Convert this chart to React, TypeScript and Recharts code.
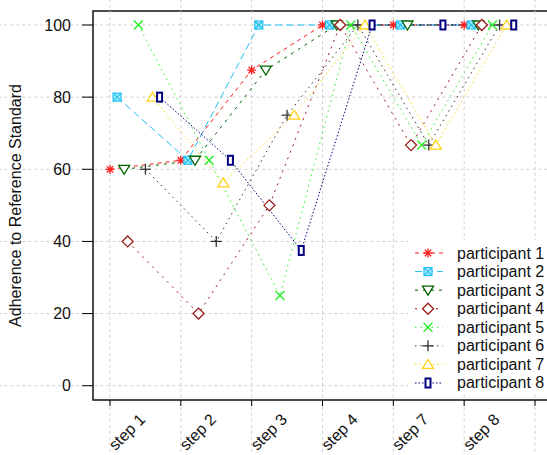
import React from "react";
import { LineChart, Line, XAxis, YAxis, ReferenceLine, ReferenceArea, Legend } from "recharts";

// categories and ticks
const steps = ["step 1", "step 2", "step 3", "step 4", "step 7", "step 8"];
const xTicks = [1, 2, 3, 4, 5, 6, 7];
const yTicks = [0, 20, 40, 60, 80, 100];
const participants = [
  "participant 1",
  "participant 2",
  "participant 3",
  "participant 4",
  "participant 5",
  "participant 6",
  "participant 7",
  "participant 8",
];

// adherence per step, one array per participant
const p1 = [60, 62.5, 87.5, 100, 100, 100];
const p2 = [80, 62.5, 100, 100, 100, 100];
const p3 = [60, 62.5, 87.5, 100, 100, 100];
const p4 = [40, 20, 50, 100, 66.7, 100];
const p5 = [100, 62.5, 25, 100, 66.7, 100];
const p6 = [60, 40, 75, 100, 66.7, 100];
const p7 = [80, 56.25, 75, 100, 66.7, 100];
const p8 = [80, 62.5, 37.5, 100, 100, 100];
const values = [p1, p2, p3, p4, p5, p6, p7, p8];

// horizontal dodge of each participant (in step units)
const dodge = [0, 0.1, 0.2, 0.25, 0.4, 0.5, 0.6, 0.7];

const colors = ["#ff1a1a", "#1ec0f5", "#006400", "#9b1b1b", "#22ee22", "#333333", "#ffd21a", "#000080"];
const dashes = ["4 4", "7 4", "3 5", "2 5", "1.5 4", "1.5 4", "1.5 3", "1.5 2"];
const shapes = ["asterisk", "boxX", "triDown", "diamond", "cross", "plus", "triUp", "rect"];

const FONT = "'Liberation Sans', Arial, Helvetica, sans-serif";
const X_DOMAIN: [number, number] = [0.76, 7.226];
const Y_DOMAIN: [number, number] = [-3.96, 103.88];

const Marker = ({ shape, color, cx, cy }: any) => {
  if (cx == null || cy == null) return null;
  const sw = 1.3;
  switch (shape) {
    case "asterisk": {
      const r = 4.5;
      const d = r * 0.707;
      return (
        <g stroke={color} strokeWidth={sw}>
          <line x1={cx - r} y1={cy} x2={cx + r} y2={cy} />
          <line x1={cx} y1={cy - r} x2={cx} y2={cy + r} />
          <line x1={cx - d} y1={cy - d} x2={cx + d} y2={cy + d} />
          <line x1={cx - d} y1={cy + d} x2={cx + d} y2={cy - d} />
        </g>
      );
    }
    case "boxX": {
      const h = 4;
      return (
        <g stroke={color} strokeWidth={1.2}>
          <rect x={cx - h} y={cy - h} width={2 * h} height={2 * h} fill="#aee8fb" />
          <line x1={cx - h} y1={cy - h} x2={cx + h} y2={cy + h} />
          <line x1={cx - h} y1={cy + h} x2={cx + h} y2={cy - h} />
        </g>
      );
    }
    case "triDown":
      return (
        <polygon
          points={`${cx - 5.5},${cy - 4} ${cx + 5.5},${cy - 4} ${cx},${cy + 5}`}
          fill="#fff"
          stroke={color}
          strokeWidth={sw}
        />
      );
    case "triUp":
      return (
        <polygon
          points={`${cx - 5.5},${cy + 4} ${cx + 5.5},${cy + 4} ${cx},${cy - 5}`}
          fill="#fff"
          stroke={color}
          strokeWidth={sw}
        />
      );
    case "diamond": {
      const r = 5.5;
      return (
        <polygon
          points={`${cx - r},${cy} ${cx},${cy - r} ${cx + r},${cy} ${cx},${cy + r}`}
          fill="#fff"
          stroke={color}
          strokeWidth={sw}
        />
      );
    }
    case "cross": {
      const r = 4.5;
      return (
        <g stroke={color} strokeWidth={sw}>
          <line x1={cx - r} y1={cy - r} x2={cx + r} y2={cy + r} />
          <line x1={cx - r} y1={cy + r} x2={cx + r} y2={cy - r} />
        </g>
      );
    }
    case "plus": {
      const r = 5.5;
      return (
        <g stroke={color} strokeWidth={sw}>
          <line x1={cx - r} y1={cy} x2={cx + r} y2={cy} />
          <line x1={cx} y1={cy - r} x2={cx} y2={cy + r} />
        </g>
      );
    }
    case "rect":
      return <rect x={cx - 2.5} y={cy - 4.5} width={5} height={9} fill="#fff" stroke={color} strokeWidth={2} />;
    default:
      return null;
  }
};

const StepTick = ({ x, y, payload }: any) => {
  const label = steps[payload.value - 1];
  if (!label) return <g />;
  const cx = x + 17;
  const cy = y + 24;
  return (
    <text
      x={cx}
      y={cy}
      transform={`rotate(-45 ${cx} ${cy})`}
      textAnchor="middle"
      dominantBaseline="central"
      fontSize={16}
      fontFamily={FONT}
      fill="#111"
    >
      {label}
    </text>
  );
};

const LegendBox = () => (
  <svg width={150} height={154} style={{ display: "block", background: "#fff" }}>
    {participants.map((name, i) => {
      const cy = 13 + i * 18.57;
      return (
        <g key={name}>
          <line x1={7} x2={35} y1={cy} y2={cy} stroke={colors[i]} strokeDasharray={dashes[i]} />
          <Marker shape={shapes[i]} color={colors[i]} cx={20} cy={cy} />
          <text x={49} y={cy} dominantBaseline="central" fontSize={16} fontFamily={FONT} fill="#111">
            {name}
          </text>
        </g>
      );
    })}
  </svg>
);

export default function App() {
  const series = values.map((vals, i) => vals.map((v, k) => ({ x: k + 1 + dodge[i], y: v })));

  return (
    <div
      style={{
        position: "absolute",
        left: 0,
        top: 0,
        width: 547,
        height: 455,
        overflow: "hidden",
        background: "#fff",
      }}
    >
      <LineChart width={560} height={455} margin={{ top: 11, right: 9, bottom: 0, left: 0 }} style={{ fontFamily: FONT }}>
        <XAxis
          type="number"
          dataKey="x"
          domain={X_DOMAIN}
          ticks={xTicks}
          allowDataOverflow
          height={55}
          axisLine={false}
          tickSize={6}
          tickLine={{ stroke: "#000" }}
          tick={<StepTick />}
          interval={0}
        />
        <YAxis
          type="number"
          dataKey="y"
          domain={Y_DOMAIN}
          ticks={yTicks}
          allowDataOverflow
          width={93}
          axisLine={false}
          tickSize={11}
          tickMargin={11}
          tickLine={{ stroke: "#000" }}
          tick={{ fontSize: 16, fill: "#111", fontFamily: FONT }}
          label={{
            position: "center",
            content: (p: any) => {
              const vb = p.viewBox || { y: 11, height: 389 };
              const cy = vb.y + vb.height / 2;
              return (
                <text
                  x={15}
                  y={cy}
                  transform={`rotate(-90 15 ${cy})`}
                  textAnchor="middle"
                  dominantBaseline="central"
                  fontSize={16}
                  fontFamily={FONT}
                  fill="#111"
                >
                  Adherence to Reference Standard
                </text>
              );
            },
          }}
        />
        {yTicks.map((t) => (
          <ReferenceLine
            key={`h${t}`}
            segment={[{ x: -1, y: t }, { x: 9, y: t }]}
            ifOverflow="visible"
            stroke="#cfcfcf"
            strokeDasharray="3 3"
          />
        ))}
        {xTicks.map((t) => (
          <ReferenceLine
            key={`v${t}`}
            segment={[{ x: t, y: -25 }, { x: t, y: 110 }]}
            ifOverflow="visible"
            stroke="#cfcfcf"
            strokeDasharray="3 3"
          />
        ))}
        <ReferenceArea
          x1={X_DOMAIN[0]}
          x2={X_DOMAIN[1]}
          y1={Y_DOMAIN[0]}
          y2={Y_DOMAIN[1]}
          ifOverflow="visible"
          fill="none"
          fillOpacity={0}
          stroke="#111"
          strokeWidth={1.5}
        />
        {series.map((data, i) => (
          <Line
            key={participants[i]}
            data={data}
            dataKey="y"
            name={participants[i]}
            type="linear"
            stroke={colors[i]}
            strokeWidth={1}
            strokeDasharray={dashes[i]}
            isAnimationActive={false}
            activeDot={false}
            dot={(props: any) => (
              <Marker key={`${i}-${props.index}`} shape={shapes[i]} color={colors[i]} cx={props.cx} cy={props.cy} />
            )}
          />
        ))}
        <Legend
          layout="vertical"
          align="center"
          verticalAlign="middle"
          content={<LegendBox />}
          wrapperStyle={{ left: 408, top: 240, width: 150, height: 154 }}
        />
      </LineChart>
    </div>
  );
}
